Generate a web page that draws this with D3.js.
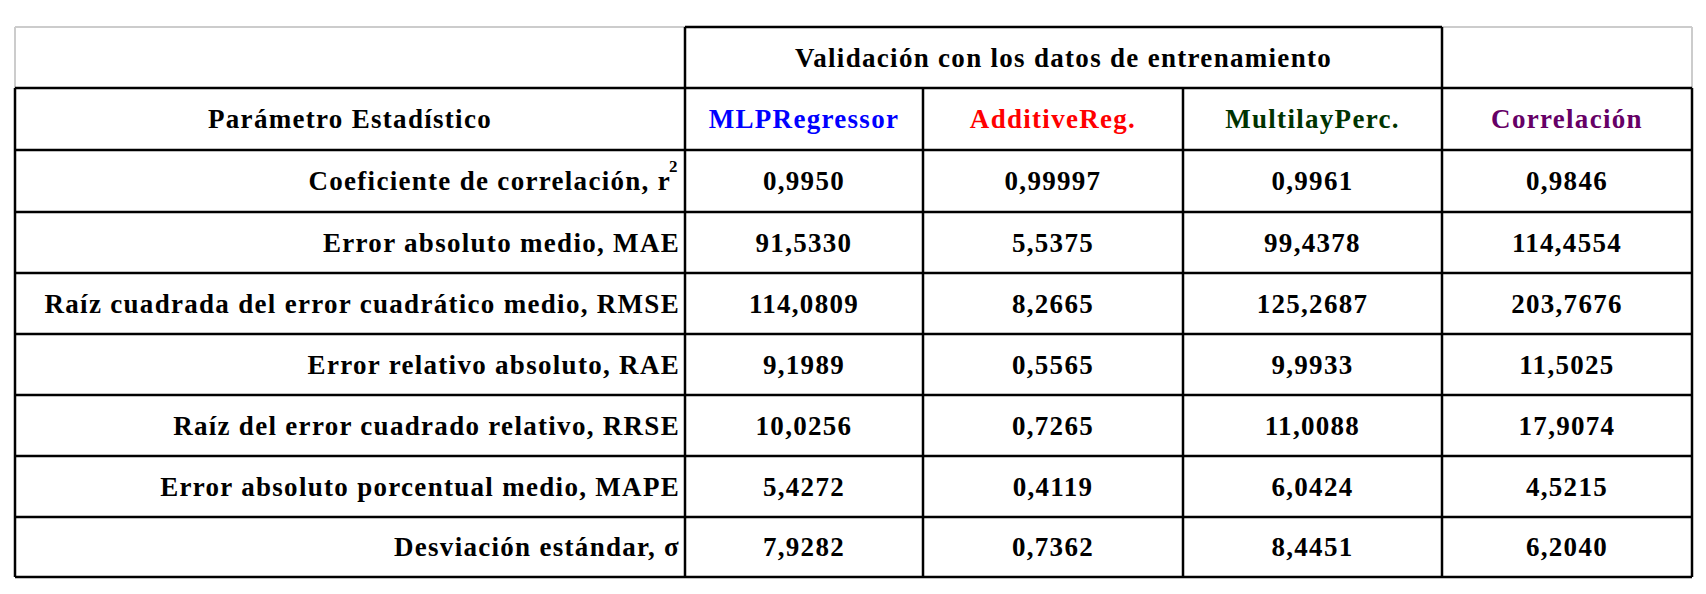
<!DOCTYPE html><html><head><meta charset="utf-8"><script src="https://cdn.jsdelivr.net/npm/d3@7"></script>
<style>body{margin:0;background:#fff}</style></head><body><svg id="c" width="1706" height="594"></svg>
<script>
const groupTitle = "Validación con los datos de entrenamiento";
const firstHeader = "Parámetro Estadístico";
const models = ["MLPRegressor","AdditiveReg.","MultilayPerc.","Correlación"];
const modelColors = ["#0000ff","#ff0000","#003300","#660066"];
const params = ["Coeficiente de correlación, r","Error absoluto medio, MAE","Raíz cuadrada del error cuadrático medio, RMSE","Error relativo absoluto, RAE","Raíz del error cuadrado relativo, RRSE","Error absoluto porcentual medio, MAPE","Desviación estándar, σ"];
const mlp = ["0,9950","91,5330","114,0809","9,1989","10,0256","5,4272","7,9282"];
const additive = ["0,99997","5,5375","8,2665","0,5565","0,7265","0,4119","0,7362"];
const multilay = ["0,9961","99,4378","125,2687","9,9933","11,0088","6,0424","8,4451"];
const correl = ["0,9846","114,4554","203,7676","11,5025","17,9074","4,5215","6,2040"];
const series=[mlp,additive,multilay,correl];

const svg=d3.select("#c");
const colEdges=[15,685,923,1183,1442,1692];
const rowEdges=[27,88,150,212,273,334,395,456,517,577];
const font="'Liberation Serif','Times New Roman',serif";
const line=(x1,y1,x2,y2,c,w)=>svg.append("line").attr("x1",x1).attr("y1",y1).attr("x2",x2).attr("y2",y2).attr("stroke",c).attr("stroke-width",w);
line(15,27,685,27,"#ccc",2);line(15,27,15,88,"#ccc",2);
line(1442,27,1692,27,"#ccc",2);line(1692,27,1692,88,"#ccc",2);
line(685,27,1442,27,"#000",2.5);
line(15,88,1692,88,"#000",2.5);
for(let i=2;i<rowEdges.length;i++) line(15,rowEdges[i],1692,rowEdges[i],"#000",2.5);
line(15,88,15,577,"#000",2.5);line(1692,88,1692,577,"#000",2.5);
line(685,27,685,577,"#000",2.5);line(1442,27,1442,577,"#000",2.5);
line(923,88,923,577,"#000",2.5);line(1183,88,1183,577,"#000",2.5);
const txt=(x,y,s,anchor,color)=>svg.append("text").attr("x",x).attr("y",y).attr("text-anchor",anchor).attr("dominant-baseline","central").attr("font-family",font).attr("font-weight","bold").attr("font-size",27).attr("letter-spacing","1.3px").attr("fill",color||"#000").text(s);
txt((685+1442)/2,(27+88)/2,groupTitle,"middle");
txt((15+685)/2,(88+150)/2,firstHeader,"middle");
models.forEach((m,j)=>txt((colEdges[j+1]+colEdges[j+2])/2,(88+150)/2,m,"middle",modelColors[j]));
params.forEach((p,i)=>{
  const y=(rowEdges[i+2]+rowEdges[i+3])/2;
  txt(i===0?671:680,y,p,"end");
  if(i===0){svg.append("text").attr("x",669).attr("y",y-9).attr("font-family",font).attr("font-weight","bold").attr("font-size",17).text("2");}
  series.forEach((s,j)=>txt((colEdges[j+1]+colEdges[j+2])/2,y,s[i],"middle"));
});
</script></body></html>
